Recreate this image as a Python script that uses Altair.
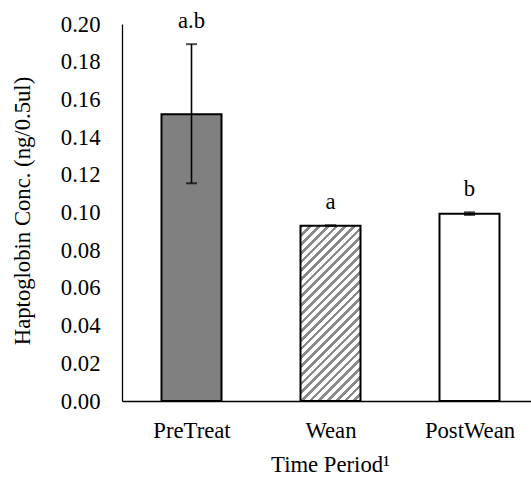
import altair as alt
import pandas as pd

periods = ["PreTreat", "Wean", "PostWean"]
means = [0.1521, 0.0930, 0.0994]
lower = [0.1155, 0.0929, 0.0987]
upper = [0.1893, 0.0932, 0.1001]
letters = ["a.b", "a", "b"]
fills = ["#808080", "hatch", "#ffffff"]
y_ticks = [0.00, 0.02, 0.04, 0.06, 0.08, 0.10, 0.12, 0.14, 0.16, 0.18, 0.20]

df = pd.DataFrame({
    "idx": list(range(len(periods))),
    "period": periods,
    "mean": means,
    "lo": lower,
    "hi": upper,
    "letter": letters,
    "fill": fills,
})

FONT = "Liberation Serif"
FS = 22.7
W, H = 409, 377
BAR_W = 60
YMAX = 0.20

# diagonal hatch built as a striped linear gradient (stripes at 45 degrees)
hatch_h = means[1] / YMAX * H
c = (BAR_W + hatch_h) / (BAR_W ** 2 + hatch_h ** 2)
n_stripes = 27
stops = []
for k in range(n_stripes):
    s0 = k / n_stripes
    s1 = (k + 0.42) / n_stripes
    s2 = (k + 1) / n_stripes
    stops += [
        {"offset": s0, "color": "#8a8a8a"},
        {"offset": s1, "color": "#8a8a8a"},
        {"offset": s1, "color": "#ffffff"},
        {"offset": s2, "color": "#ffffff"},
    ]
hatch = alt.LinearGradient(
    gradient="linear", x1=0, y1=0, x2=c * BAR_W, y2=c * hatch_h, stops=stops
)

label_expr = "[" + ",".join(f"'{p}'" for p in periods) + "][datum.value]"

x_scale = alt.Scale(domain=[-0.5, -0.5 + W / 139.0], nice=False, zero=False, padding=0)
y_scale = alt.Scale(domain=[0, YMAX], nice=False)

x_axis = alt.Axis(
    values=list(range(len(periods))),
    labelExpr=label_expr,
    ticks=False,
    grid=False,
    labelPadding=36,
    labelBaseline="alphabetic",
    labelOverlap=False,
    title="Time Period¹",
    titleX=208,
    titleY=70,
    titleBaseline="alphabetic",
    titleFontWeight="normal",
    titleFontSize=FS,
)
y_axis = alt.Axis(
    values=y_ticks,
    format=".2f",
    ticks=False,
    grid=False,
    labelPadding=22,
    labelOverlap=False,
    labelSeparation=0,
    tickCount=len(y_ticks),
    title="Haptoglobin Conc. (ng/0.5ul)",
    titleAngle=270,
    titleX=-100,
    titleY=H / 2 - 2,
    titleAlign="center",
    titleBaseline="middle",
    titleFontWeight="normal",
    titleFontSize=FS,
)

X = alt.X("idx:Q", scale=x_scale, axis=x_axis)


def Y(field):
    return alt.Y(f"{field}:Q", scale=y_scale, axis=y_axis)


base = alt.Chart(df)

bars = base.transform_filter("datum.fill != 'hatch'").mark_bar(
    size=BAR_W, orient="vertical", stroke="black", strokeWidth=2
).encode(x=X, y=Y("mean"), fill=alt.Fill("fill:N", scale=None))

hatch_bar = base.transform_filter("datum.fill == 'hatch'").mark_bar(
    size=BAR_W, orient="vertical", stroke="black", strokeWidth=2, fill=hatch
).encode(x=X, y=Y("mean"))

err = base.mark_rule(color="black", strokeWidth=1.6).encode(
    x=X, y=Y("lo"), y2="hi:Q"
)
cap_lo = base.mark_tick(orient="horizontal", size=11, thickness=2, color="black").encode(
    x=X, y=Y("lo")
)
cap_hi = base.mark_tick(orient="horizontal", size=11, thickness=2, color="black").encode(
    x=X, y=Y("hi")
)
text = base.mark_text(
    font=FONT, fontSize=FS, color="black", baseline="alphabetic", dy=-16
).encode(x=X, y=Y("hi"), text="letter:N")

chart = (
    alt.layer(bars, hatch_bar, err, cap_lo, cap_hi, text)
    .properties(
        width=W,
        height=H,
        autosize=alt.AutoSizeParams(type="none"),
        padding={"left": 122, "top": 24, "right": 0, "bottom": 77},
        background="white",
    )
    .configure_view(stroke=None)
    .configure_axis(
        domainColor="black",
        domainWidth=1.3,
        labelFont=FONT,
        labelFontSize=FS,
        labelColor="black",
        labelOverlap=False,
        titleFont=FONT,
        titleColor="black",
    )
)

chart.save("out.html", embed_options={"renderer": "svg", "actions": False})
